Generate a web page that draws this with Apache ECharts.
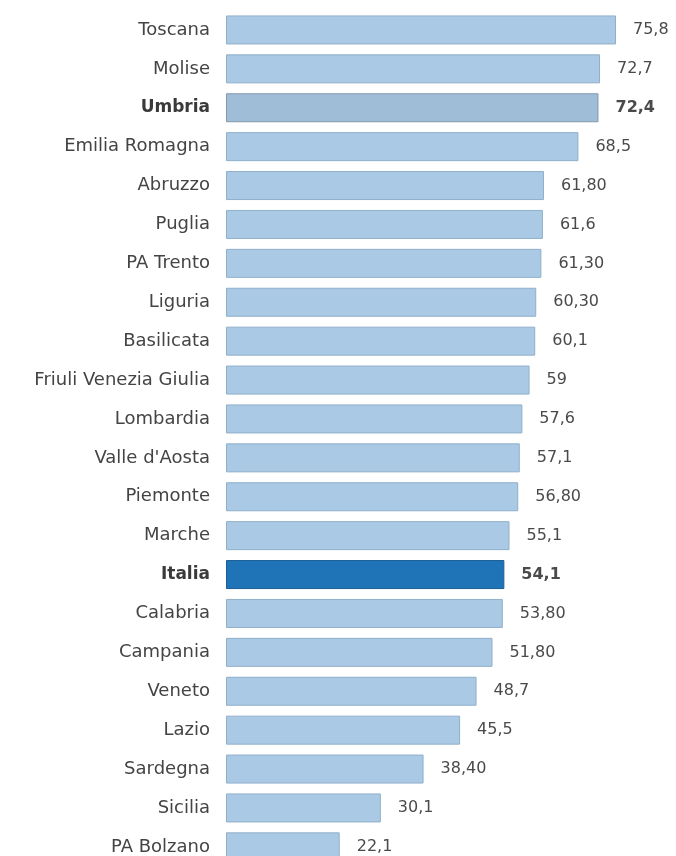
<!DOCTYPE html>
<html>
<head>
<meta charset="utf-8">
<script src="https://cdn.jsdelivr.net/npm/echarts@6/dist/echarts.min.js"></script>
<style>
  html, body { margin: 0; padding: 0; background: #ffffff; }
  #chart { width: 676px; height: 856px; }
</style>
</head>
<body>
<div id="chart"></div>
<script>
// Regions, in ranking order (top to bottom)
const regions = [
  'Toscana', 'Molise', 'Umbria', 'Emilia Romagna', 'Abruzzo', 'Puglia',
  'PA Trento', 'Liguria', 'Basilicata', 'Friuli Venezia Giulia', 'Lombardia',
  "Valle d'Aosta", 'Piemonte', 'Marche', 'Italia', 'Calabria', 'Campania',
  'Veneto', 'Lazio', 'Sardegna', 'Sicilia', 'PA Bolzano'
];

// Values as printed next to each bar (Italian decimal comma)
const valueTexts = [
  '75,8', '72,7', '72,4', '68,5', '61,80', '61,6',
  '61,30', '60,30', '60,1', '59', '57,6',
  '57,1', '56,80', '55,1', '54,1', '53,80', '51,80',
  '48,7', '45,5', '38,40', '30,1', '22,1'
];

// Rows drawn with emphasis
const highlightRegion = 'Umbria';
const nationalRow = 'Italia';

const values = valueTexts.map(t => parseFloat(t.replace(',', '.')));

const colLight = '#aac9e4';
const borderLight = '#8fafca';
const colUmbria = '#a0bdd7';
const borderUmbria = '#8398aa';
const colItalia = '#1f74b8';
const borderItalia = '#1a5d94';

const data = values.map((v, i) => {
  const name = regions[i];
  let color = colLight, border = borderLight, bold = false;
  if (name === highlightRegion) { color = colUmbria; border = borderUmbria; bold = true; }
  if (name === nationalRow) { color = colItalia; border = borderItalia; bold = true; }
  return {
    value: v,
    itemStyle: { color: color, borderColor: border, borderWidth: 1 },
    label: { fontWeight: bold ? 'bold' : 'normal' }
  };
});

const chart = echarts.init(document.getElementById('chart'), null, { renderer: 'canvas' });

chart.setOption({
  animation: false,
  backgroundColor: '#ffffff',
  grid: {
    left: 226, top: 10.5, width: 411.6, height: 855.8,
    containLabel: false,
    outerBoundsMode: 'none'
  },
  xAxis: {
    type: 'value', min: 0, max: 80,
    show: false
  },
  yAxis: {
    type: 'category',
    data: regions,
    inverse: true,
    axisLine: { show: false },
    axisTick: { show: false },
    splitLine: { show: false },
    axisLabel: {
      margin: 16,
      color: '#444444',
      fontFamily: 'DejaVu Sans',
      fontSize: 18,
      formatter: function (name) {
        return (name === highlightRegion || name === nationalRow) ? '{b|' + name + '}' : name;
      },
      rich: {
        b: { fontWeight: 'bold', color: '#3a3a3a', fontFamily: 'DejaVu Sans', fontSize: 17 }
      }
    }
  },
  series: [{
    type: 'bar',
    data: data,
    barWidth: 29,
    label: {
      show: true,
      position: 'right',
      distance: 17,
      color: '#4a4a4a',
      fontFamily: 'DejaVu Sans',
      fontSize: 16,
      formatter: function (p) { return valueTexts[p.dataIndex]; }
    }
  }]
});
</script>
</body>
</html>
